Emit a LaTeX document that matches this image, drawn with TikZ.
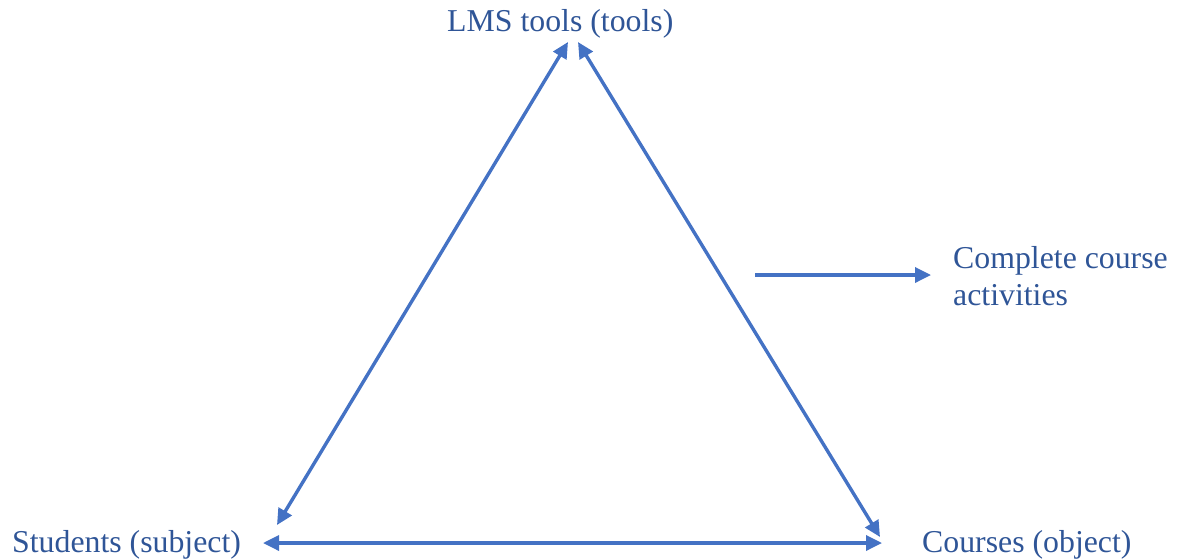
\documentclass[tikz,border=0pt]{standalone}
\usepackage{fontspec}
\setmainfont{Liberation Serif}
\usetikzlibrary{arrows.meta}
\definecolor{linec}{HTML}{4472C4}
\definecolor{textc}{HTML}{2F5597}
\begin{document}
\begin{tikzpicture}[x=1pt,y=-1pt,
  lbl/.style={text=textc,font=\fontsize{31.8}{37}\selectfont,inner sep=0pt,anchor=base west},
  conn/.style={draw=linec,line width=3.4pt,{Triangle[length=16pt,width=15pt]}-{Triangle[length=16pt,width=15pt]}},
  oneway/.style={draw=linec,line width=3.4pt,-{Triangle[length=16pt,width=15pt]}}]
\useasboundingbox (0,0) rectangle (1181,558);
\node[lbl] (tools) at (447,31) {LMS tools (tools)};
\node[lbl] (subj) at (12,552) {Students (subject)};
\node[lbl] (obj) at (922,552) {Courses (object)};
\node[lbl,align=left,anchor=north west] (act) at (953,246) {Complete course\\activities};
\coordinate (tl) at (568,42);
\coordinate (tr) at (578,42);
\coordinate (bl) at (277,525);
\coordinate (br) at (880,537);
\coordinate (hl) at (263,543);
\coordinate (hr) at (882,543);
\coordinate (as) at (755,275);
\coordinate (ae) at (931,275);
\draw[conn] (tl) -- (bl);
\draw[conn] (tr) -- (br);
\draw[conn] (hl) -- (hr);
\draw[oneway] (as) -- (ae);
\end{tikzpicture}
\end{document}
